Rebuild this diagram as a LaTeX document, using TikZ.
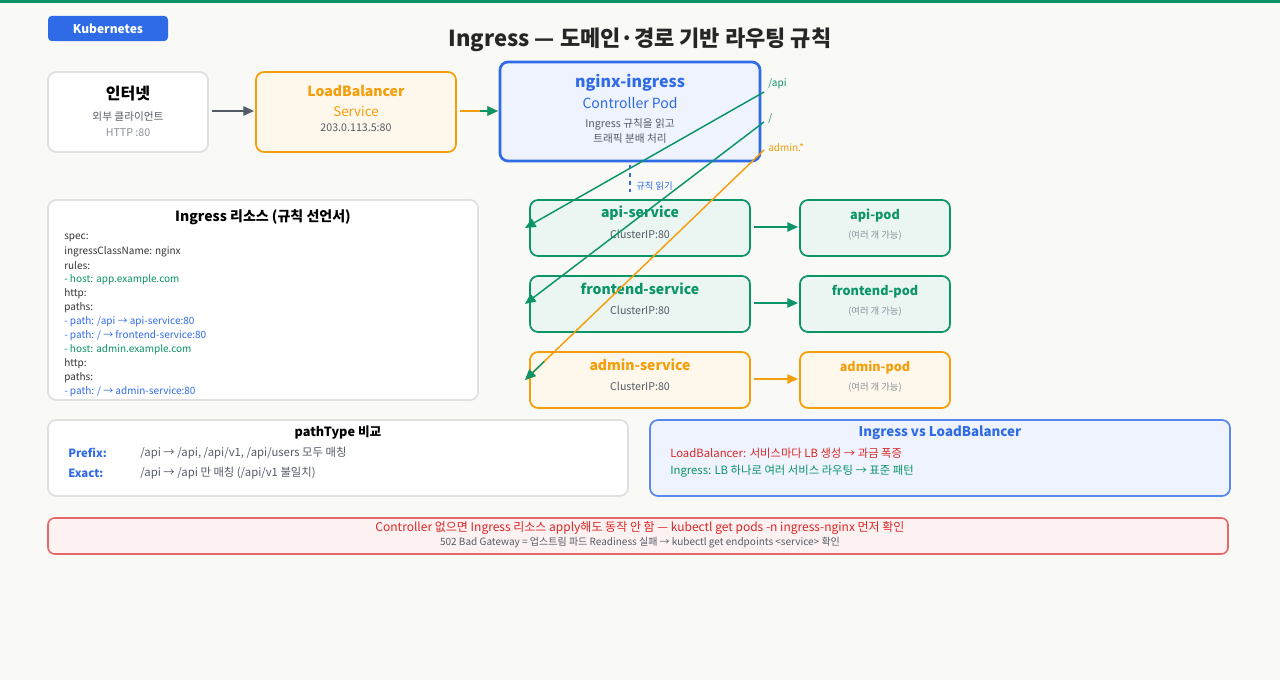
\documentclass[tikz,border=0pt]{standalone}
\usepackage{fontspec}
\setmainfont{Noto Sans CJK KR}
\usetikzlibrary{arrows.meta,calc}
\definecolor{bg}{HTML}{F9F9F5}
\definecolor{kgreen}{HTML}{0A9467}
\definecolor{kblue}{HTML}{2F6BE6}
\definecolor{korange}{HTML}{F59E0B}
\definecolor{kgray}{HTML}{555B66}
\definecolor{lgray}{HTML}{8A8F99}
\definecolor{kred}{HTML}{DC2626}
\begin{document}
\begin{tikzpicture}[x=0.75pt,y=-0.75pt,
  box/.style={draw,rounded corners=6pt,line width=1.3pt},
  txt/.style={inner sep=0pt,anchor=center},
  small/.style={font=\fontsize{8}{9}\selectfont},
  arr/.style={-{Triangle[length=8pt,width=7pt]},line width=1.3pt},
  route/.style={-{Triangle[length=8pt,width=7pt]},line width=1.1pt,kgreen}]
\fill[bg] (0,0) rectangle (1280,680);
\useasboundingbox (0,0) rectangle (1280,680);
\fill[kgreen] (0,0) rectangle (1280,3.5);
\node[fill=kblue,rounded corners=3pt,minimum width=90pt,minimum height=19pt,text=white,font=\bfseries\fontsize{9}{10}\selectfont] (badge) at (108,28.5) {Kubernetes};
\node[txt,font=\bfseries\fontsize{16.5}{18}\selectfont,text=black!85] (title) at (640,40) {Ingress — 도메인·경로 기반 라우팅 규칙};
% top row
\draw[box,draw=black!12,fill=white] (48,72) rectangle (208,152);
\node[txt,font=\bfseries\fontsize{12}{13}\selectfont] (inet) at (128,94) {인터넷};
\node[txt,small,text=kgray] at (128,117) {외부 클라이언트};
\node[txt,small,text=lgray] at (128,133) {HTTP :80};
\coordinate (inetE) at (212,111);
\draw[box,draw=korange,fill=korange!8] (256,72) rectangle (456,152);
\coordinate (lbW) at (254,111); \coordinate (lbE) at (460,111);
\node[txt,font=\bfseries\fontsize{10.5}{12}\selectfont,text=korange] (lb) at (356,91) {LoadBalancer};
\node[txt,font=\fontsize{10}{11}\selectfont,text=korange] at (356,111) {Service};
\node[txt,small,text=kgray] at (356,128) {203.0.113.5:80};
\draw[box,draw=kblue,fill=kblue!8,line width=2pt] (500,62) rectangle (760,161);
\coordinate (ngW) at (498,111);
\node[txt,font=\bfseries\fontsize{12}{13}\selectfont,text=kblue] (ng) at (630,83) {nginx-ingress};
\node[txt,font=\fontsize{10.5}{12}\selectfont,text=kblue] at (630,103) {Controller Pod};
\node[txt,small,text=kgray] at (630,124) {Ingress 규칙을 읽고};
\node[txt,small,text=kgray] at (630,139) {트래픽 분배 처리};
\draw[arr,draw=kgray,fill=kgray] (inetE) -- (lbW);
\draw[-{Triangle[length=8pt,width=7pt]},line width=1.3pt,korange] (lbE) -- (ngW);
\draw[arr,kgreen] ($(lbE)+(20,0)$) -- (ngW);
\draw[kblue,dashed,line width=1.2pt] (630,165) coordinate (dA) -- (630,192) coordinate (dB);
\node[txt,anchor=west,font=\fontsize{7}{8}\selectfont,text=kblue] (rr) at (636,186) {규칙 읽기};
% services
\foreach \n/\t/\y/\c in {api/api/200/kgreen,fe/frontend/276/kgreen,ad/admin/352/korange}{
  \draw[box,draw=\c,fill=\c!8] (530,\y) rectangle (750,\y+56);
  \node[txt,font=\bfseries\fontsize{10.5}{12}\selectfont,text=\c] (\n s) at (640,\y+13) {\t-service};
  \node[txt,small,text=kgray] at (640,\y+34) {ClusterIP:80};
  \draw[box,draw=\c,fill=\c!8] (800,\y) rectangle (950,\y+56);
  \node[txt,font=\bfseries\fontsize{9.5}{11}\selectfont,text=\c] (\n p) at (875,\y+16) {\t-pod};
  \node[txt,font=\fontsize{7}{8}\selectfont,text=lgray] at (875,\y+36) {(여러 개 가능)};
  \coordinate (\n S) at (754,\y+27); \coordinate (\n P) at (798,\y+27);
  \draw[arr,\c] (\n S) -- (\n P);
}
% routes
\coordinate (r1) at (764,92); \coordinate (t1) at (525,228);
\coordinate (r2) at (764,122); \coordinate (t2) at (525,304);
\coordinate (r3) at (764,150); \coordinate (t3) at (525,380);
\draw[route] (r1) -- (t1);
\draw[route] (r2) -- (t2);
\draw[route,korange] (r3) -- (t3);
\draw[route] ($(t3)!0.08!(r3)$) -- (t3);
\node[txt,anchor=west,font=\fontsize{7.5}{8}\selectfont,text=kgreen] at (768,84) {/api};
\node[txt,anchor=west,font=\fontsize{7.5}{8}\selectfont,text=kgreen] at (768,118) {/};
\node[txt,anchor=west,font=\fontsize{7.5}{8}\selectfont,text=korange] at (768,148) {admin.*};
% ingress resource
\draw[box,draw=black!12,fill=white] (48,200) rectangle (478,400);
\node[txt,font=\bfseries\fontsize{10.5}{12}\selectfont] (ir) at (263,217) {Ingress 리소스 (규칙 선언서)};
\foreach \y/\c/\t in {238/black!80/{spec:},252/black!80/{ingressClassName: nginx},266/black!80/{rules:},280/kgreen/{- host: app.example.com},294/black!80/{http:},308/black!80/{paths:},322/kblue/{- path: /api → api-service:80},336/kblue/{- path: / → frontend-service:80},350/kgreen/{- host: admin.example.com},364/black!80/{http:},378/black!80/{paths:},392/kblue/{- path: / → admin-service:80}}
  \node[txt,anchor=west,font=\fontsize{7.5}{8}\selectfont,text=\c] at (64,\y) {\t};
% pathType
\draw[box,draw=black!12,fill=white] (48,420) rectangle (628,496);
\node[txt,font=\bfseries\fontsize{9.5}{11}\selectfont] (pt) at (338,433) {pathType 비교};
\node[txt,anchor=west,font=\bfseries\fontsize{8.5}{10}\selectfont,text=kblue] at (68,453) {Prefix:};
\node[txt,anchor=west,font=\fontsize{8.5}{10}\selectfont,text=kgray] at (140,453) {/api → /api, /api/v1, /api/users 모두 매칭};
\node[txt,anchor=west,font=\bfseries\fontsize{8.5}{10}\selectfont,text=kblue] at (68,473) {Exact:};
\node[txt,anchor=west,font=\fontsize{8.5}{10}\selectfont,text=kgray] at (140,473) {/api → /api 만 매칭 (/api/v1 불일치)};
% vs
\draw[box,draw=kblue!80,fill=kblue!8] (650,420) rectangle (1230,496);
\node[txt,font=\bfseries\fontsize{10}{11}\selectfont,text=kblue] (vs) at (940,433) {Ingress vs LoadBalancer};
\node[txt,anchor=west,font=\fontsize{8.5}{10}\selectfont,text=kred] at (670,453) {LoadBalancer: 서비스마다 LB 생성 → 과금 폭증};
\node[txt,anchor=west,font=\fontsize{8.5}{10}\selectfont,text=kgreen] at (670,471) {Ingress: LB 하나로 여러 서비스 라우팅 → 표준 패턴};
% warning
\draw[draw=kred!70,fill=kred!6,rounded corners=5pt,line width=1.2pt] (48,518) rectangle (1228,554);
\node[txt,font=\fontsize{9}{10}\selectfont,text=kred] (w1) at (640,528) {Controller 없으면 Ingress 리소스 apply해도 동작 안 함 — kubectl get pods -n ingress-nginx 먼저 확인};
\node[txt,font=\fontsize{7.5}{8}\selectfont,text=kgray] (w2) at (640,543) {502 Bad Gateway = 업스트림 파드 Readiness 실패 → kubectl get endpoints <service> 확인};
\end{tikzpicture}
\end{document}
